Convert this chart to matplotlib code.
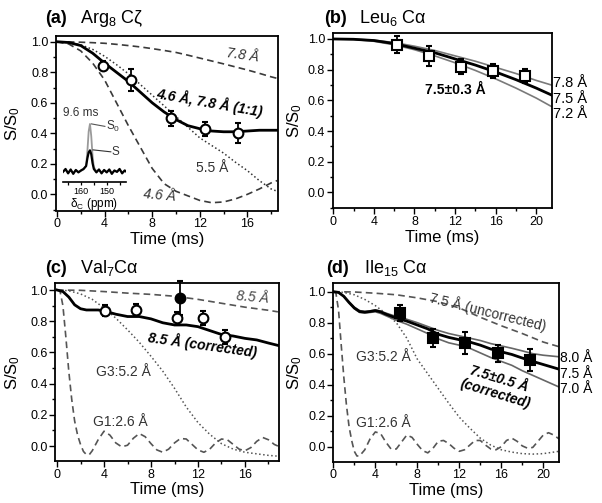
import matplotlib.pyplot as plt
from matplotlib.ticker import MultipleLocator

plt.rcParams['font.family'] = ['Liberation Sans', 'DejaVu Sans']
plt.rcParams['mathtext.fontset'] = 'custom'
plt.rcParams['mathtext.rm'] = 'Liberation Sans'
plt.rcParams['mathtext.it'] = 'Liberation Sans:italic'
plt.rcParams['mathtext.bf'] = 'Liberation Sans:bold'

# --- (a) Arg8 Cz ---
t_a = [0, 1, 2, 3, 4, 5, 6, 7, 8, 9, 10, 11, 12, 13, 14, 15, 16, 17, 18, 18.5]
fit_a = [1.0, 0.995, 0.975, 0.925, 0.86, 0.80, 0.74, 0.67, 0.60, 0.54, 0.49, 0.45,
         0.43, 0.415, 0.41, 0.41, 0.415, 0.42, 0.42, 0.42]
r55_a = [1.0, 0.995, 0.98, 0.95, 0.905, 0.85, 0.79, 0.72, 0.65, 0.58, 0.51, 0.44,
         0.37, 0.32, 0.27, 0.21, 0.155, 0.09, 0.035, 0.02]
r46_a = [1.0, 0.985, 0.94, 0.86, 0.75, 0.60, 0.45, 0.31, 0.17, 0.07, 0.02, -0.01,
         -0.04, -0.055, -0.05, -0.03, 0.0, 0.035, 0.075, 0.09]
r78_a = [1.0, 0.999, 0.997, 0.994, 0.99, 0.983, 0.975, 0.966, 0.955, 0.943, 0.93, 0.912,
         0.893, 0.874, 0.855, 0.835, 0.815, 0.793, 0.77, 0.76]
pt_a = [3.9, 6.2, 9.6, 12.4, 15.2]
py_a = [0.844, 0.75, 0.497, 0.43, 0.40]
pe_a = [0.03, 0.07, 0.05, 0.045, 0.065]

# inset spectrum (ppm)
ppm = [167, 166, 165, 164, 163, 162, 161, 160, 159, 158, 157.5, 157, 156.5, 156, 155.5,
       155, 154, 153, 152, 151, 150, 149, 148, 147, 146, 145, 144, 143, 142]
spec_s0 = [0.03, 0.06, 0.01, 0.05, 0.0, 0.05, 0.02, 0.04, 0.07, 0.15, 0.45, 0.85, 1.0,
           0.75, 0.35, 0.12, 0.03, 0.06, 0.01, 0.05, 0.02, 0.06, 0.0, 0.04, 0.03, 0.07,
           0.01, 0.04, 0.02]
spec_s = [0.02, 0.08, -0.01, 0.07, -0.02, 0.06, 0.01, 0.05, 0.08, 0.14, 0.3, 0.42, 0.46,
          0.38, 0.2, 0.08, 0.01, 0.07, -0.01, 0.06, 0.01, 0.07, -0.02, 0.05, 0.02, 0.08,
          -0.01, 0.05, 0.01]

# --- (b) Leu6 Ca ---
t_b = [0, 2, 4, 6, 8, 10, 12, 14, 16, 18, 20, 21.5]
fit75_b = [1.0, 0.998, 0.99, 0.97, 0.94, 0.91, 0.87, 0.83, 0.785, 0.735, 0.68, 0.635]
r78_b = [1.0, 0.999, 0.992, 0.977, 0.953, 0.925, 0.89, 0.855, 0.815, 0.775, 0.73, 0.70]
r72_b = [1.0, 0.997, 0.985, 0.962, 0.93, 0.89, 0.845, 0.795, 0.74, 0.68, 0.615, 0.56]
pt_b = [6.3, 9.4, 12.6, 15.7, 18.9]
py_b = [0.963, 0.887, 0.82, 0.792, 0.76]
pe_b = [0.055, 0.065, 0.05, 0.045, 0.045]

# --- (c) Val7 Ca ---
t_c = [0, 0.5, 1, 1.5, 2, 2.5, 3, 3.5, 4, 5, 6, 7, 8, 9, 10, 11, 12, 13, 14, 15, 16,
       17, 18, 18.8]
fit_c = [1.0, 0.99, 0.955, 0.905, 0.88, 0.872, 0.872, 0.872, 0.866, 0.845, 0.83, 0.83,
         0.815, 0.79, 0.776, 0.776, 0.765, 0.74, 0.715, 0.705, 0.69, 0.68, 0.66, 0.645]
t_c85 = [0, 2, 4, 6, 8, 10, 12, 14, 16, 18, 18.8]
r85_c = [1.0, 0.998, 0.99, 0.98, 0.972, 0.96, 0.94, 0.915, 0.89, 0.87, 0.86]
t_g3c = [0, 1, 2, 3, 4, 5, 6, 7, 8, 9, 10, 11, 12, 13, 14, 15, 16, 17, 18, 18.8]
g3_c = [1.0, 0.995, 0.975, 0.94, 0.885, 0.82, 0.745, 0.665, 0.575, 0.48, 0.37, 0.25,
        0.15, 0.075, 0.015, -0.02, -0.04, -0.05, -0.06, -0.065]
t_g1c = [0, 0.25, 0.5, 0.75, 1.0, 1.25, 1.5, 1.75, 2.0, 2.25, 2.5, 2.75, 3.0, 3.5, 4.0,
         4.5, 5.0, 5.5, 6.0, 6.5, 7.0, 7.5, 8.0, 8.5, 9.0, 9.5, 10.0, 10.5, 11.0, 11.5,
         12.0, 12.5, 13.0, 13.5, 14.0, 14.5, 15.0, 15.5, 16.0, 16.5, 17.0, 17.5, 18.0,
         18.5, 18.8]
g1_c = [1.0, 0.995, 0.9, 0.7, 0.48, 0.3, 0.16, 0.07, 0.01, -0.035, -0.055, -0.055, -0.03,
        0.04, 0.095, 0.07, 0.02, -0.005, 0.005, 0.05, 0.08, 0.06, 0.015, -0.025, -0.04,
        -0.02, 0.02, 0.048, 0.045, 0.01, -0.025, -0.04, -0.02, 0.02, 0.045, 0.04, 0.01,
        -0.02, -0.03, -0.01, 0.03, 0.055, 0.04, 0.01, 0.0]
pt_c = [4.1, 6.7, 10.25, 12.45, 14.3]
py_c = [0.867, 0.874, 0.818, 0.823, 0.70]
pe_c = [0.035, 0.035, 0.04, 0.045, 0.045]
pt_c_unc = [10.45]
py_c_unc = [0.95]
pe_c_unc = [0.11]

# --- (d) Ile15 Ca ---
t_d = [0, 0.5, 1, 1.5, 2, 2.5, 3, 3.5, 4, 4.5, 5, 6, 7, 8, 9, 10, 11, 12, 13, 14, 15,
       16, 17, 18, 19, 20, 21.5]
fit75_d = [1.0, 0.995, 0.97, 0.93, 0.895, 0.872, 0.868, 0.872, 0.878, 0.87, 0.855, 0.83,
           0.81, 0.785, 0.76, 0.725, 0.705, 0.69, 0.675, 0.655, 0.63, 0.612, 0.595, 0.572,
           0.55, 0.53, 0.50]
r80_d = [1.0, 0.995, 0.97, 0.935, 0.9, 0.878, 0.872, 0.876, 0.882, 0.875, 0.862, 0.84,
         0.822, 0.80, 0.775, 0.75, 0.73, 0.715, 0.70, 0.685, 0.665, 0.65, 0.635, 0.618,
         0.60, 0.59, 0.58]
r70_d = [1.0, 0.995, 0.97, 0.93, 0.89, 0.866, 0.862, 0.866, 0.87, 0.86, 0.845, 0.815,
         0.79, 0.76, 0.73, 0.695, 0.67, 0.655, 0.635, 0.605, 0.575, 0.55, 0.525, 0.49,
         0.46, 0.43, 0.385]
t_unc = [0, 2, 4, 6, 8, 10, 12, 14, 16, 18, 20, 21.5]
unc_d = [1.0, 0.998, 0.99, 0.98, 0.96, 0.935, 0.895, 0.835, 0.78, 0.73, 0.675, 0.645]
t_g3d = [0, 1, 2, 3, 4, 5, 6, 7, 8, 9, 10, 11, 12, 13, 14, 15, 16, 17, 18, 19, 20, 21.5]
g3_d = [1.0, 0.995, 0.98, 0.95, 0.91, 0.86, 0.80, 0.70, 0.565, 0.47, 0.375, 0.28, 0.19,
        0.12, 0.055, 0.01, -0.02, -0.035, -0.045, -0.048, -0.045, -0.03]
t_g1d = [0, 0.25, 0.5, 0.75, 1.0, 1.25, 1.5, 1.75, 2.0, 2.25, 2.5, 3.0, 3.5, 4.0, 4.5,
         5.0, 5.5, 6.0, 6.5, 7.0, 7.5, 8.0, 8.5, 9.0, 9.5, 10.0, 10.5, 11.0, 11.5, 12.0,
         12.5, 13.0, 13.5, 14.0, 14.5, 15.0, 15.5, 16.0, 16.5, 17.0, 17.5, 18.0, 18.5,
         19.0, 19.5, 20.0, 20.5, 21.0, 21.5]
g1_d = [1.0, 0.99, 0.88, 0.66, 0.45, 0.27, 0.13, 0.04, -0.03, -0.06, -0.06, -0.02, 0.05,
        0.095, 0.085, 0.03, -0.015, -0.015, 0.03, 0.075, 0.06, 0.015, -0.025, -0.04,
        -0.01, 0.035, 0.04, 0.02, -0.01, -0.03, -0.02, 0.01, 0.04, 0.04, 0.01, -0.015,
        -0.02, 0.0, 0.04, 0.055, 0.035, 0.005, -0.01, -0.005, 0.035, 0.075, 0.09, 0.075,
        0.05]
pt_d = [6.35, 9.5, 12.55, 15.65, 18.7]
py_d = [0.865, 0.70, 0.667, 0.602, 0.559]
pe_d = [0.052, 0.056, 0.072, 0.057, 0.072]

W, H = 602, 503
fig = plt.figure(figsize=(W / 100, H / 100), dpi=100)


def add_ax(l, t, r, b):
    return fig.add_axes([l / W, 1 - b / H, (r - l) / W, (b - t) / H])


def frame(ax, xlim, ylim, xlab_y, ylab_x):
    ax.set_xlim(xlim)
    ax.set_ylim(ylim)
    ax.set_xticks([0, 4, 8, 12, 16, 20][:int(xlim[1] // 4) + 1])
    ax.xaxis.set_minor_locator(MultipleLocator(2))
    ax.set_yticks([0.0, 0.2, 0.4, 0.6, 0.8, 1.0])
    ax.set_yticklabels(['0.0', '0.2', '0.4', '0.6', '0.8', '1.0'])
    ax.yaxis.set_minor_locator(MultipleLocator(0.1))
    ax.tick_params(which='both', direction='out', top=False, right=False,
                   labelsize=9, width=1.0)
    ax.tick_params(which='major', length=4, pad=1.5)
    ax.tick_params(which='minor', length=2.5)
    for s in ax.spines.values():
        s.set_linewidth(1.3)
    ax.set_xlabel('Time (ms)', fontsize=12)
    ax.set_ylabel('S/S$_0$', fontsize=12)
    ax.xaxis.set_label_coords(0.5, xlab_y)
    ax.yaxis.set_label_coords(ylab_x, 0.5)


def points(ax, t, y, e, marker, filled, ms=7, clip=True):
    c = ax.errorbar(t, y, yerr=e, fmt=marker, ms=ms, mfc='black' if filled else 'white',
                    mec='black', mew=1.5, ecolor='black', elinewidth=1.3, capsize=2.5,
                    capthick=1.3, zorder=10)
    if not clip:
        for a in c.lines[1] + c.lines[2]:
            a.set_clip_on(False)


dash = (4, 2.5)

# ---------------- (a) ----------------
ax = add_ax(56, 35.5, 278, 210.5)
frame(ax, (-0.08, 18.57), (-0.106, 1.041), -0.125, -0.153)
ax.plot(t_a, r78_a, color='#3a3a3a', lw=1.2, dashes=dash)
ax.plot(t_a, r46_a, color='#3a3a3a', lw=1.2, dashes=dash)
ax.plot(t_a, r55_a, color='#333333', lw=1.1, ls=':')
ax.plot(t_a, fit_a, color='black', lw=2.0)
points(ax, pt_a, py_a, pe_a, 'o', False)
ax.text(15.6, 0.91, '7.8 Å', style='italic', fontsize=10, rotation=-8,
        ha='center', va='center', color='#333333')
ax.text(12.86, 0.605, '4.6 Å, 7.8 Å (1:1)', style='italic', fontweight='bold',
        fontsize=10, rotation=-10, ha='center', va='center')
ax.text(13.0, 0.172, '5.5 Å', fontsize=10, ha='center', va='center', color='#333333')
ax.text(8.66, -0.005, '4.6 Å', style='italic', fontsize=10, rotation=-5,
        ha='center', va='center', color='#333333')
ax.text(0.5, 0.533, '9.6 ms', fontsize=8.5, ha='left', va='center', color='#333333')

axi = add_ax(62.7, 120, 126, 181.7)
axi.patch.set_alpha(0)
for side in ['left', 'top', 'right']:
    axi.spines[side].set_visible(False)
axi.spines['bottom'].set_linewidth(1.2)
axi.set_xlim(167.1, 142.5)
axi.set_ylim(-0.18, 1.08)
axi.set_yticks([])
axi.set_xticks([165, 160, 155, 150, 145])
axi.set_xticklabels(['', '160', '', '150', ''])
axi.tick_params(axis='x', direction='out', length=2.5, width=0.9, labelsize=6.5, pad=1)
axi.set_xlabel('δ$_\\mathrm{C}$ (ppm)', fontsize=8.5, labelpad=0)
axi.plot(ppm, spec_s0, color='#9a9a9a', lw=1.3)
axi.plot(ppm, spec_s, color='black', lw=1.6)
axi.plot([155.9, 150.7], [1.0, 0.95], color='#555555', lw=0.8)
axi.plot([155.3, 148.4], [0.47, 0.43], color='#333333', lw=0.8)
axi.text(150.4, 0.95, 'S$_0$', fontsize=8.5, ha='left', va='center', color='#333333')
axi.text(148.1, 0.43, 'S', fontsize=8.5, ha='left', va='center', color='#333333')

# ---------------- (b) ----------------
ax = add_ax(332.7, 33.3, 551.7, 208)
frame(ax, (-0.06, 21.52), (-0.101, 1.037), -0.126, -0.131)
ax.plot(t_b, r78_b, color='#7a7a7a', lw=1.2)
ax.plot(t_b, r72_b, color='#7a7a7a', lw=1.2)
ax.plot(t_b, fit75_b, color='black', lw=2.0)
points(ax, pt_b, py_b, pe_b, 's', False, ms=6.5)
ax.text(12.0, 0.667, '7.5±0.3 Å', fontweight='bold', fontsize=10, ha='center', va='center')
for yy, lab in zip([0.71, 0.607, 0.51], ['7.8 Å', '7.5 Å', '7.2 Å']):
    ax.text(21.62, yy, lab, fontsize=10.5, ha='left', va='center', clip_on=False)

# ---------------- (c) ----------------
ax = add_ax(55.5, 283.3, 279.3, 461)
frame(ax, (-0.13, 18.92), (-0.096, 1.043), -0.118, -0.15)
ax.plot(t_c85, r85_c, color='#555555', lw=1.2, dashes=dash)
ax.plot(t_g3c, g3_c, color='#555555', lw=1.1, ls=':')
ax.plot(t_g1c, g1_c, color='#555555', lw=1.2, dashes=dash)
ax.plot(t_c, fit_c, color='black', lw=2.0)
points(ax, pt_c, py_c, pe_c, 'o', False)
points(ax, pt_c_unc, py_c_unc, pe_c_unc, 'o', True, clip=False)
ax.text(16.6, 0.955, '8.5 Å', style='italic', fontsize=10, rotation=-5,
        ha='center', va='center', color='#444444')
ax.text(12.38, 0.647, '8.5 Å (corrected)', style='italic', fontweight='bold',
        fontsize=10, rotation=-8, ha='center', va='center')
ax.text(3.35, 0.475, 'G3:5.2 Å', fontsize=10, ha='left', va='center', color='#333333')
ax.text(3.06, 0.155, 'G1:2.6 Å', fontsize=10, ha='left', va='center', color='#333333')

# ---------------- (d) ----------------
ax = add_ax(333.3, 283.3, 558.7, 461.7)
frame(ax, (0, 21.47), (-0.097, 1.054), -0.118, -0.13)
ax.plot(t_unc, unc_d, color='#555555', lw=1.2, dashes=dash)
ax.plot(t_g3d, g3_d, color='#555555', lw=1.1, ls=':')
ax.plot(t_g1d, g1_d, color='#555555', lw=1.2, dashes=dash)
ax.plot(t_d, r80_d, color='#666666', lw=1.2)
ax.plot(t_d, r70_d, color='#666666', lw=1.2)
ax.plot(t_d, fit75_d, color='black', lw=2.0)
points(ax, pt_d, py_d, pe_d, 's', True, ms=6.5)
ax.text(14.76, 0.871, '7.5 Å (uncorrected)', fontsize=10, rotation=-14,
        ha='center', va='center', color='#333333')
ax.text(15.6, 0.39, '7.5±0.5 Å\n(corrected)', style='italic', fontweight='bold',
        fontsize=10, rotation=-17, ha='center', va='center', linespacing=1.1)
ax.text(2.16, 0.58, 'G3:5.2 Å', fontsize=10, ha='left', va='center', color='#333333')
ax.text(2.16, 0.15, 'G1:2.6 Å', fontsize=10, ha='left', va='center', color='#333333')
for yy, lab in zip([0.57, 0.469, 0.37], ['8.0 Å', '7.5 Å', '7.0 Å']):
    ax.text(21.55, yy, lab, fontsize=10, ha='left', va='center', clip_on=False)

# ---------------- titles ----------------
ty1 = 1 - 23 / H
ty2 = 1 - 272.7 / H
for x1, x2, y, tag, name in [(45, 80, ty1, '(a)', 'Arg$_8$ Cζ'),
                             (324, 359, ty1, '(b)', 'Leu$_6$ Cα'),
                             (45, 80, ty2, '(c)', 'Val$_7$Cα'),
                             (326, 364, ty2, '(d)', 'Ile$_{15}$ Cα')]:
    fig.text(x1 / W, y, tag, fontsize=13, fontweight='bold', va='baseline')
    fig.text(x2 / W, y, name, fontsize=13, va='baseline')

fig.savefig('out.png', dpi=100)
